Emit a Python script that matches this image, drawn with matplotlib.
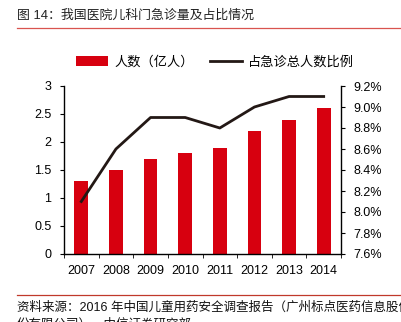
import matplotlib
matplotlib.use("Agg")
import matplotlib.pyplot as plt
from matplotlib.lines import Line2D
from matplotlib.patches import Patch
import numpy as np

plt.rcParams['font.family'] = ['Liberation Sans', 'Noto Sans CJK SC', 'DejaVu Sans']

years = ['2007', '2008', '2009', '2010', '2011', '2012', '2013', '2014']
visits = [1.3, 1.5, 1.7, 1.8, 1.9, 2.2, 2.4, 2.6]
share = [8.1, 8.6, 8.9, 8.9, 8.8, 9.0, 9.1, 9.1]
left_ticks = [0, 0.5, 1, 1.5, 2, 2.5, 3]
left_labels = ['0', '0.5', '1', '1.5', '2', '2.5', '3']
right_ticks = [7.6, 7.8, 8.0, 8.2, 8.4, 8.6, 8.8, 9.0, 9.2]
right_labels = ['7.6%', '7.8%', '8.0%', '8.2%', '8.4%', '8.6%', '8.8%', '9.0%', '9.2%']

RED = '#d7000f'
DARK = '#231815'

fig = plt.figure(figsize=(4.01, 3.22), dpi=100)
ax = fig.add_axes([64/401, 1-254/322, (341-64)/401, (254-86)/322])
x = np.arange(len(years))
ax.bar(x, visits, width=0.4, color=RED, zorder=2)
ax.set_xlim(-0.5, len(years) - 0.5)
ax.set_ylim(0, 3)
ax.set_yticks(left_ticks)
ax.set_yticklabels(left_labels, fontsize=9)
ax.set_xticks(x)
ax.set_xticklabels(years, fontsize=9)
ax.set_xticks(np.arange(-0.5, len(years), 1), minor=True)
ax.tick_params(axis='x', which='major', length=0, pad=8)
ax.tick_params(axis='x', which='minor', length=3, direction='out')
ax.tick_params(axis='y', length=3, direction='out', pad=6)
for s in ['top', 'right']:
    ax.spines[s].set_visible(False)
for s in ['left', 'bottom']:
    ax.spines[s].set_linewidth(1.0)

ax2 = ax.twinx()
ax2.plot(x, share, color=DARK, linewidth=2, zorder=3)
ax2.set_ylim(7.6, 9.2)
ax2.set_yticks(right_ticks)
ax2.set_yticklabels(right_labels, fontsize=9)
ax2.tick_params(axis='y', length=3, direction='out', pad=6)
for s in ['top', 'left', 'bottom']:
    ax2.spines[s].set_visible(False)
ax2.spines['right'].set_linewidth(1.0)

handles = [Patch(facecolor=RED, edgecolor='none'),
           Line2D([0], [0], color=DARK, linewidth=2)]
fig.legend(handles, ['人数（亿人）', '占急诊总人数比例'], loc='center left',
           bbox_to_anchor=(71/401, 1-62/322), ncol=2, frameon=False,
           fontsize=9.5, handlelength=2.4, handleheight=0.8, columnspacing=1.2,
           handletextpad=0.5, borderaxespad=0)

fig.text(17/401, 1-16/322, '图 14：我国医院儿科门急诊量及占比情况', fontsize=9.3,
         va='center', ha='left', color='#222222')
fig.add_artist(Line2D([17/401, 1.0], [1-28/322, 1-28/322], color='#d9534f', linewidth=0.9))
fig.add_artist(Line2D([17/401, 1.0], [1-295/322, 1-295/322], color='#c0392b', linewidth=0.9))
fig.text(17/401, 1-307/322, '资料来源：2016 年中国儿童用药安全调查报告（广州标点医药信息股份有限公司），',
         fontsize=9, va='center', ha='left', color='#111111')
fig.text(17/401, 1-324/322, '份有限公司），中信证券研究部',
         fontsize=9, va='center', ha='left', color='#111111')

fig.savefig('out.png', dpi=100)
